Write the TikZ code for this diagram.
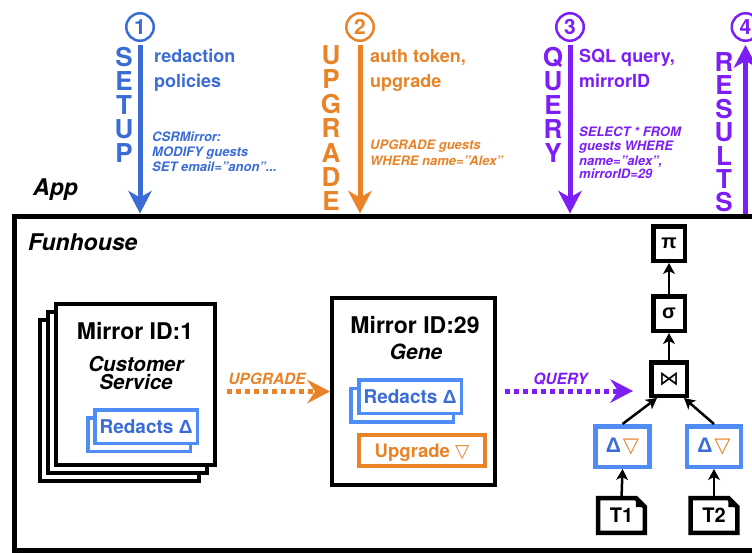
\documentclass[tikz,border=0pt]{standalone}
\usepackage{fontspec}
\setmainfont{TeX Gyre Heros}
\newfontfamily\symfont{DejaVu Sans}
\newfontfamily\grkfont{Liberation Sans}
\usetikzlibrary{arrows.meta}
\definecolor{cblue}{RGB}{59,108,214}
\definecolor{lblue}{RGB}{80,140,246}
\definecolor{corange}{RGB}{232,131,40}
\definecolor{cpurple}{RGB}{124,30,245}
\newcommand{\fsz}[1]{\fontsize{#1}{#1}\selectfont}
\newcommand{\Dl}{{\grkfont\bfseries Δ}}
\newcommand{\Tri}{{\symfont\mdseries ▽}}
\begin{document}
\begin{tikzpicture}[x=1pt,y=-1pt,
  bigarrow/.style={line width=5pt,-{Stealth[length=23pt,width=24pt,inset=7pt,line width=0pt]}},
  dotarrow/.style={line width=5pt,dash pattern=on 5pt off 4pt,-{Stealth[length=23pt,width=24pt,inset=8pt,line width=0pt]}},
  tarrow/.style={line width=2.5pt,-{Stealth[length=11pt,width=12pt,inset=3pt,line width=0pt]}},
  numcirc/.style={circle,draw,line width=2.5pt,minimum size=27.5pt,inner sep=0pt,font=\bfseries\fsz{21}},
  vword/.style={anchor=north,inner sep=0pt,align=center,font=\bfseries\fontsize{26}{#1}\selectfont},
  toplbl/.style={anchor=base west,inner sep=0pt,font=\bfseries\fsz{18}},
  sqllbl/.style={anchor=base west,inner sep=0pt,font=\bfseries\itshape\fsz{13}},
  title/.style={anchor=base west,inner sep=0pt,font=\bfseries\itshape\fsz{23}},
  mbox/.style={draw=black,fill=white,line width=4pt,inner sep=0pt},
  rbox/.style={draw=lblue,fill=white,line width=3.5pt,inner sep=0pt,minimum width=102.5pt,minimum height=33.5pt,
     text=cblue,font=\bfseries\fsz{19},text height=13.6pt,text depth=0pt},
  ubox/.style={draw=corange,fill=white,line width=4pt,inner sep=0pt,minimum width=126pt,minimum height=31pt,
     text=corange,font=\bfseries\fsz{18.5},text height=13.3pt,text depth=0pt},
  mtext/.style={anchor=base,inner sep=0pt,font=\bfseries\fsz{23}},
  mital/.style={inner sep=0pt,align=center,font=\bfseries\itshape\fontsize{20.5}{18}\selectfont},
  edgelbl/.style={anchor=base,inner sep=0pt,font=\bfseries\itshape\fsz{15.5}},
  tbox/.style={draw=black,fill=white,line width=4.5pt,inner sep=0pt,minimum width=31.5pt,minimum height=34.5pt,font=\bfseries\fsz{20}},
  dbox/.style={draw=lblue,fill=white,line width=4.5pt,inner sep=0pt,minimum width=54pt,minimum height=40.5pt},
  docnode/.style={inner sep=0pt,minimum width=46.5pt,minimum height=34.5pt,font=\bfseries\fsz{20}},
  docline/.style={draw=black,line width=4.5pt,fill=white}
]
\useasboundingbox (0,0) rectangle (752,552);

% Funhouse frame
\node[draw=black,line width=5pt,minimum width=755pt,minimum height=334pt,inner sep=0pt] (fh) at (392,383) {};
\node[title] (app) at (33,195) {App};
\node[title] (funhouse) at (28,250) {Funhouse};

% numbered circles
\node[numcirc,draw=cblue,text=cblue] (c1) at (140,27) {1};
\node[numcirc,draw=corange,text=corange] (c2) at (360,27) {2};
\node[numcirc,draw=cpurple,text=cpurple] (c3) at (570,27) {3};
\node[numcirc,draw=cpurple,text=cpurple] (c4) at (745.5,27) {4};

% big arrows
\draw[bigarrow,cblue] ([yshift=-3pt]c1.south) -- (c1.south |- fh.north);
\draw[bigarrow,corange] ([yshift=-3pt]c2.south) -- (c2.south |- fh.north);
\draw[bigarrow,cpurple] ([yshift=-3pt]c3.south) -- (c3.south |- fh.north);
\draw[bigarrow,cpurple] (c4.south |- fh.north) -- ([yshift=-3pt]c4.south);

% vertical words
\node[vword=24,text=cblue] (setup) at (124,47.3) {S\\E\\T\\U\\P};
\node[vword=24.4,text=corange] (upgw) at (331,45.3) {U\\P\\G\\R\\A\\D\\E};
\node[vword=24,text=cpurple] (queryw) at (553,47.3) {Q\\U\\E\\R\\Y};
\node[vword=23.4,text=cpurple] (resw) at (724,52.3) {R\\E\\S\\U\\L\\T\\S};

% labels next to arrows
\node[toplbl,text=cblue] (l1a) at (154,62) {redaction};
\node[toplbl,text=cblue] (l1b) at (154,87) {policies};
\node[sqllbl,text=cblue] (s1a) at (152,141) {CSRMirror:};
\node[sqllbl,text=cblue] (s1b) at (152,156.5) {MODIFY guests};
\node[sqllbl,text=cblue] (s1c) at (152,171) {SET email="anon"...};

\node[toplbl,text=corange] (l2a) at (370,62) {auth token,};
\node[toplbl,text=corange] (l2b) at (370,87) {upgrade};
\node[sqllbl,text=corange] (s2a) at (370,149.5) {UPGRADE guests};
\node[sqllbl,text=corange] (s2b) at (370,165.5) {WHERE name="Alex"};

\node[toplbl,text=cpurple] (l3a) at (579,62) {SQL query,};
\node[toplbl,text=cpurple] (l3b) at (579,87) {mirrorID};
\node[sqllbl,text=cpurple] (s3a) at (579,136) {SELECT * FROM};
\node[sqllbl,text=cpurple] (s3b) at (579,150) {guests WHERE};
\node[sqllbl,text=cpurple] (s3c) at (579,165) {name="alex",};
\node[sqllbl,text=cpurple] (s3d) at (579,178) {mirrorID=29};

% Mirror ID:1 stack
\node[mbox,minimum width=159pt,minimum height=161pt] (m1c) at (119.5,400.5) {};
\node[mbox,minimum width=159pt,minimum height=161pt] (m1b) at (127.5,392.5) {};
\node[mbox,minimum width=159pt,minimum height=161pt] (m1) at (135.5,384.5) {};
\node[mtext] (m1t) at (135,339) {Mirror ID:1};
\node[mital,anchor=north] (m1s) at (136,356) {Customer\\Service};
\node[rbox] (r1b) at (139,434.5) {};
\node[rbox] (r1) at (146,426.5) {Redacts \Dl};

% Mirror ID:29
\node[mbox,minimum width=163pt,minimum height=187pt] (m29) at (413.5,391.5) {};
\node[mtext] (m29t) at (415,333) {Mirror ID:29};
\node[mital,anchor=base,font=\bfseries\itshape\fsz{21}] (m29s) at (416,359) {Gene};
\node[rbox] (r29b) at (402,405) {};
\node[rbox] (r29) at (410,396.5) {Redacts \Dl};
\node[ubox] (u29) at (422,450.5) {Upgrade \Tri};

% dotted arrows
\coordinate (ua) at (227,391.5);
\draw[dotarrow,corange] (ua) -- (m29.west);
\node[edgelbl,text=corange] (ul) at (267,384) {UPGRADE};
\coordinate (qa) at (505,391);
\coordinate (qb) at (633,391);
\draw[dotarrow,cpurple] (qa) -- (qb);
\node[edgelbl,text=cpurple] (ql) at (560.5,384) {QUERY};

% query plan tree
\node[tbox] (p) at (669,243.5) {\grkfont π};
\node[tbox] (s) at (669,313.5) {\grkfont σ};
\node[tbox,minimum width=35.5pt,minimum height=33.5pt] (j) at (669,379) {\symfont\mdseries ⋈};
\node[dbox] (d1) at (622.5,446.5) {\textcolor{cblue}{\fsz{21}\Dl}\hspace{2pt}\textcolor{corange}{\fsz{21}\Tri}};
\node[dbox] (d2) at (714,446.5) {\textcolor{cblue}{\fsz{21}\Dl}\hspace{2pt}\textcolor{corange}{\fsz{21}\Tri}};
\coordinate (t1) at (621.5,515.5);
\coordinate (t2) at (714,515.5);
\foreach \t in {t1,t2}{
  \path (\t) node[docnode] (\t box) {};
  \draw[docline] (\t box.north west) -- ([xshift=-9pt]\t box.north east) -- ([yshift=-9pt]\t box.north east)
     -- (\t box.south east) -- (\t box.south west) -- cycle;
  \fill[black] ([xshift=-9pt]\t box.north east) -- ([yshift=-9pt]\t box.north east) -- ([xshift=-9pt,yshift=-9pt]\t box.north east) -- cycle;
}
\node[docnode] (t1l) at (t1) {T1};
\node[docnode] (t2l) at (t2) {T2};

\draw[tarrow] (t1box.north) -- (d1.south);
\draw[tarrow] (t2box.north) -- (d2.south);
\draw[tarrow] (d1.north) -- ([xshift=-12pt]j.south);
\draw[tarrow] (d2.north) -- ([xshift=15pt]j.south);
\draw[tarrow] (j.north) -- (s.south);
\draw[tarrow] (s.north) -- (p.south);
\end{tikzpicture}
\end{document}
